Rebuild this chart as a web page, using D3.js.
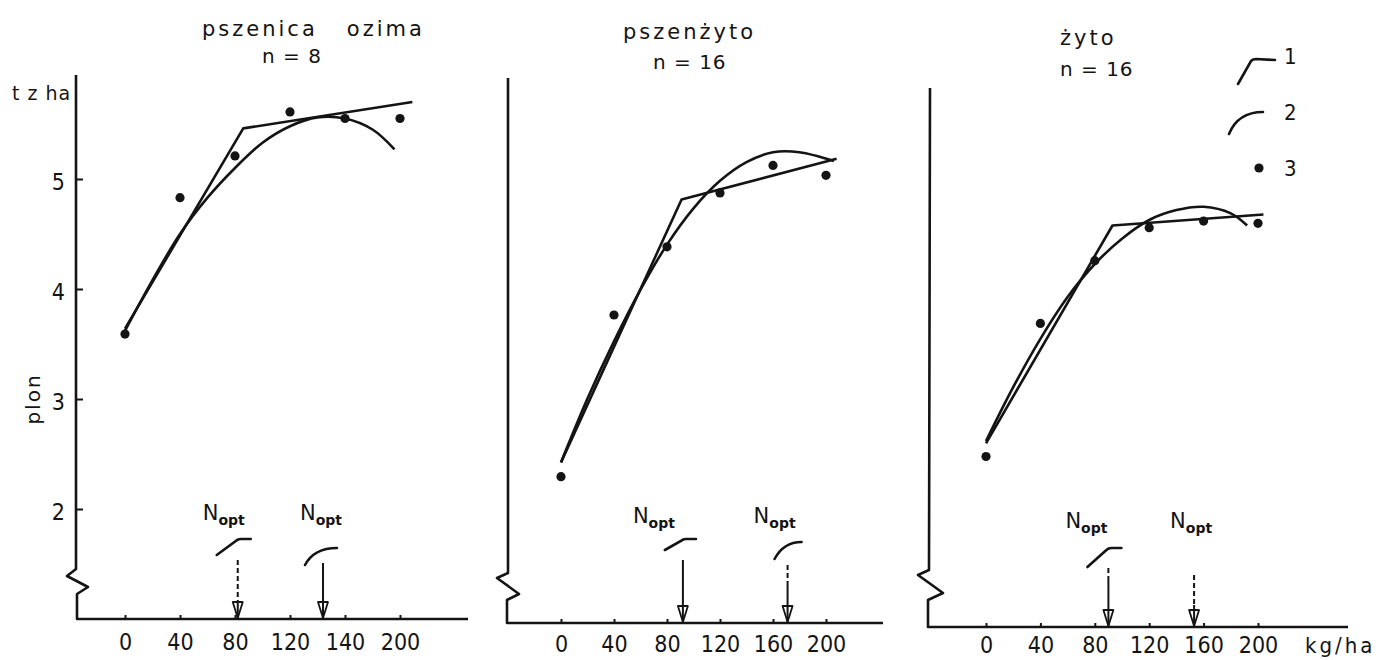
<!DOCTYPE html>
<html><head><meta charset="utf-8">
<script src="https://cdn.jsdelivr.net/npm/d3@7"></script>
<style>
html,body{margin:0;padding:0;background:#fff;}
svg{display:block;}
text{fill:#141414;font-family:"DejaVu Sans",sans-serif;}
.tick text{font-family:"DejaVu Sans Condensed","DejaVu Sans",sans-serif;font-stretch:condensed;}
</style></head><body>
<svg id="chart" width="1386" height="660"></svg>
<script>
// ---------------- DATA ----------------
const nRates = [0, 40, 80, 120, 160, 200];              // N dose, kg/ha
const xTickLabels1 = ["0", "40", "80", "120", "140", "200"]; // as printed in panel 1
const xTickLabels2 = ["0", "40", "80", "120", "160", "200"];
const xTickLabels3 = ["0", "40", "80", "120", "160", "200"];
const yTicks = [2, 3, 4, 5];
const titles = ["pszenica   ozima", "pszenżyto", "żyto"];
const sampleSizes = ["n = 8", "n = 16", "n = 16"];

// observed yields (t/ha), legend item 3
const obsWheat     = [3.59, 4.83, 5.21, 5.61, 5.55, 5.55];
const obsTriticale = [2.33, 3.80, 4.42, 4.91, 5.16, 5.07];
const obsRye       = [2.55, 3.76, 4.33, 4.63, 4.69, 4.67];

// model 1: linear-plateau (vertices)
const linWheatN = [0, 86, 209],      linWheatY = [3.64, 5.46, 5.70];
const linTriticaleN = [0, 91, 208],  linTriticaleY = [2.46, 4.85, 5.22];
const linRyeN = [0, 93, 204],        linRyeY = [2.67, 4.65, 4.75];

// model 2: quadratic curve
const quadWheatN = [0, 20, 40, 60, 80, 100, 120, 140, 160, 180, 196];
const quadWheatY = [3.62, 4.08, 4.50, 4.83, 5.10, 5.33, 5.48, 5.56, 5.55, 5.45, 5.27];
const quadTriticaleN = [0, 20, 40, 60, 80, 100, 120, 140, 160, 180, 206];
const quadTriticaleY = [2.46, 3.04, 3.56, 4.03, 4.44, 4.77, 5.02, 5.19, 5.28, 5.28, 5.20];
const quadRyeN = [0, 20, 40, 60, 80, 100, 120, 140, 160, 180, 192];
const quadRyeY = [2.69, 3.18, 3.62, 4.00, 4.30, 4.53, 4.70, 4.79, 4.82, 4.76, 4.65];

// optimum N doses (arrows)
const noptLinear = [82, 92, 90];
const noptQuad = [144, 171, 153];
const legendLabels = ["1", "2", "3"];

// ---------------- LAYOUT ----------------
const layout = [
  {axisX: 76, top: 75, base: 619, xEnd: 468, xr: [125, 400],
   zig: [[76,569],[67,576],[88,587],[77,594]],
   arrows: [{top: 560, mid: 601, show: true, gy: 555, gdx: -21, gdy: -16},
            {top: 563, mid: 563, show: true, gy: 565, gdx: -18, gdy: -17}],
   ntext: [{dx: -35, y: 520}, {dx: -23, y: 520}], labelPad: 15},
  {axisX: 508, top: 78, base: 623, xEnd: 883, xr: [561, 826],
   zig: [[508,573],[497,578],[519,594],[507,600]],
   arrows: [{top: 560, mid: 560, show: true, gy: 550, gdx: -18, gdy: -11},
            {top: 565, mid: 582, show: true, gy: 559, gdx: -13, gdy: -17}],
   ntext: [{dx: -50, y: 523}, {dx: -34, y: 523}], labelPad: 13},
  {axisX: 930, top: 88, base: 627, xEnd: 1348, xr: [986, 1258],
   zig: [[929,570],[918,575],[943,593],[928,600]],
   arrows: [{top: 568, mid: 580, show: true, gy: 567, gdx: -21, gdy: -19},
            {top: 575, mid: 605, show: false}],
   ntext: [{dx: -43, y: 528}, {dx: -24, y: 528}], labelPad: 10}
];
const titleLayout = [
  {tx: 202, ty: 36, nx: 262, ny: 63},
  {tx: 623, ty: 39, nx: 653, ny: 69},
  {tx: 1060, ty: 45, nx: 1060, ny: 76}
];

const panels = [
  {obs: obsWheat, linN: linWheatN, linY: linWheatY, qN: quadWheatN, qY: quadWheatY, labels: xTickLabels1},
  {obs: obsTriticale, linN: linTriticaleN, linY: linTriticaleY, qN: quadTriticaleN, qY: quadTriticaleY, labels: xTickLabels2},
  {obs: obsRye, linN: linRyeN, linY: linRyeY, qN: quadRyeN, qY: quadRyeY, labels: xTickLabels3}
];

const svg = d3.select("#chart");
const ink = "#141414";

panels.forEach((p, i) => {
  const L = layout[i];
  const g = svg.append("g");
  const x = d3.scaleLinear().domain([0, 200]).range(L.xr);
  const y = d3.scaleLinear().domain([1, 6]).range([L.base, L.base - 550]);

  // axes frame with scale break
  const frame = [[L.axisX, L.top], ...L.zig, [L.zig[3][0], L.base], [L.xEnd, L.base]];
  g.append("path").attr("d", d3.line().curve(d3.curveLinear)(frame))
    .attr("fill", "none").attr("stroke", ink).attr("stroke-width", 2.6)
    .attr("stroke-linejoin", "round");

  // x axis ticks and labels
  const xa = g.append("g").attr("transform", `translate(0,${L.base})`)
    .call(d3.axisBottom(x).tickValues(nRates).tickFormat((d, j) => p.labels[j])
      .tickSizeInner(-4).tickSizeOuter(0).tickPadding(L.labelPad));
  xa.select(".domain").remove();
  xa.selectAll(".tick line").attr("stroke", ink).attr("stroke-width", 2);
  xa.selectAll(".tick text").attr("font-size", 23).attr("fill", ink);

  // y axis (labels only on first panel)
  if (i === 0) {
    const ya = g.append("g").attr("transform", `translate(${L.axisX},0)`)
      .call(d3.axisLeft(y).tickValues(yTicks).tickFormat(d3.format("d"))
        .tickSizeInner(-7).tickSizeOuter(0).tickPadding(11));
    ya.select(".domain").remove();
    ya.selectAll(".tick line").attr("stroke", ink).attr("stroke-width", 2);
    ya.selectAll(".tick text").attr("font-size", 23).attr("fill", ink).attr("dy", "0.45em");
  }

  // model 1 (linear-plateau)
  const linePts = p.linN.map((n, j) => [x(n), y(p.linY[j])]);
  g.append("path").attr("d", d3.line()(linePts))
    .attr("fill", "none").attr("stroke", ink).attr("stroke-width", 2.6)
    .attr("stroke-linejoin", "round");

  // model 2 (quadratic)
  const qPts = p.qN.map((n, j) => [x(n), y(p.qY[j])]);
  g.append("path").attr("d", d3.line().curve(d3.curveCatmullRom.alpha(0.5))(qPts))
    .attr("fill", "none").attr("stroke", ink).attr("stroke-width", 2.6);

  // observed means
  g.selectAll("circle.obs").data(p.obs).join("circle").attr("class", "obs")
    .attr("cx", (d, j) => x(nRates[j])).attr("cy", d => y(d)).attr("r", 4.6).attr("fill", ink);

  // N_opt arrows
  [noptLinear[i], noptQuad[i]].forEach((nv, k) => {
    const A = L.arrows[k];
    const ax = x(nv);
    if (A.mid > A.top) {
      g.append("line").attr("x1", ax).attr("x2", ax).attr("y1", A.top).attr("y2", A.mid)
        .attr("stroke", ink).attr("stroke-width", 2).attr("stroke-dasharray", "5,3");
    }
    g.append("line").attr("x1", ax).attr("x2", ax).attr("y1", A.mid).attr("y2", L.base)
      .attr("stroke", ink).attr("stroke-width", 2);
    g.append("path").attr("d", `M${ax-5},${L.base-17} L${ax},${L.base-1} L${ax+5},${L.base-17} Z`)
      .attr("fill", "none").attr("stroke", ink).attr("stroke-width", 1.8).attr("stroke-linejoin", "round");

    // "N opt" label
    const T = L.ntext[k];
    const t = g.append("text").attr("x", ax + T.dx).attr("y", T.y).attr("font-size", 21);
    t.append("tspan").text("N");
    t.append("tspan").attr("dy", 5).attr("font-size", 14).attr("font-weight", "bold").text("opt");

    // model glyph above arrow
    if (A.show) {
      const x0 = ax + A.gdx, y0 = A.gy, y1 = A.gy + A.gdy;
      let d;
      if (k === 0) d = `M${x0},${y0} L${ax - 2},${y1 + 2} Q${ax},${y1} ${ax + 3},${y1} L${ax + 13},${y1}`;
      else d = `M${x0},${y0} Q${x0 + 9},${y1} ${ax + 14},${y1}`;
      g.append("path").attr("d", d).attr("fill", "none").attr("stroke", ink)
        .attr("stroke-width", 2.6).attr("stroke-linecap", "round");
    }
  });

  // titles
  const TL = titleLayout[i];
  g.append("text").attr("x", TL.tx).attr("y", TL.ty).attr("font-size", 21)
    .attr("letter-spacing", 3).style("white-space", "pre").text(titles[i]);
  g.append("text").attr("x", TL.nx).attr("y", TL.ny).attr("font-size", 20)
    .attr("letter-spacing", 1).style("white-space", "pre").text(sampleSizes[i]);
});

// axis titles
svg.append("text").attr("x", 12).attr("y", 100).attr("font-size", 19)
  .attr("letter-spacing", 1).style("white-space", "pre").text("t z ha");
svg.append("text").attr("transform", "translate(40,399) rotate(-90)")
  .attr("text-anchor", "middle").attr("font-size", 20).attr("letter-spacing", 2).text("plon");
svg.append("text").attr("x", 1305).attr("y", 653).attr("font-size", 22)
  .attr("letter-spacing", 3)
  .style("font-family", "'DejaVu Sans Condensed','DejaVu Sans',sans-serif").style("font-stretch", "condensed")
  .text("kg/ha");

// legend
const lg = svg.append("g");
lg.append("path").attr("d", "M1238,84 L1251,61 Q1253,59 1256,59 L1275,60")
  .attr("fill", "none").attr("stroke", ink).attr("stroke-width", 2.6).attr("stroke-linecap", "round");
lg.append("path").attr("d", "M1229,134 Q1238,112 1263,112")
  .attr("fill", "none").attr("stroke", ink).attr("stroke-width", 2.6).attr("stroke-linecap", "round");
lg.append("circle").attr("cx", 1259).attr("cy", 168).attr("r", 4.6).attr("fill", ink);
const legY = [64, 120, 176];
legendLabels.forEach((t, j) => {
  lg.append("text").attr("x", 1284).attr("y", legY[j]).attr("font-size", 22)
    .style("font-family", "'DejaVu Sans Condensed','DejaVu Sans',sans-serif").text(t);
});
</script>
</body></html>
